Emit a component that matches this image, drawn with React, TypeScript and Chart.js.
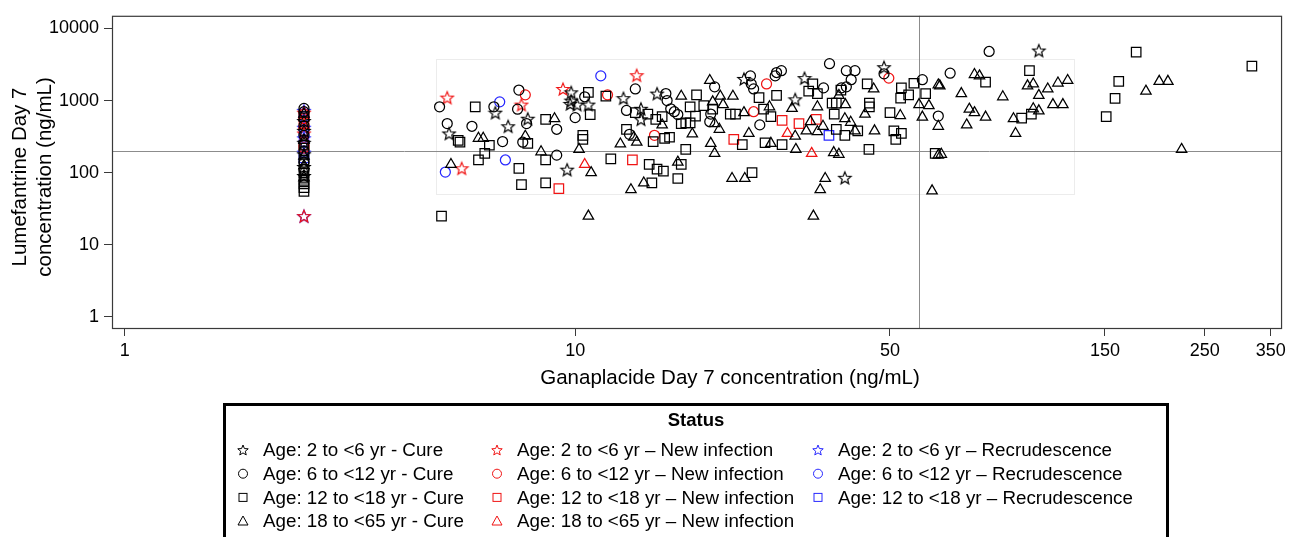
import React, { useEffect, useRef } from "react";
import { Chart, registerables } from "chart.js";
Chart.register(...registerables);

const FONT = "'Liberation Sans', Arial, Helvetica, sans-serif";

// ---------- axes ----------
const xTickValues = [1, 10, 50, 150, 250, 350];
const yTickValues = [1, 10, 100, 1000, 10000];
const xMin = 0.937;
const xMax = 371;
const yMin = 0.7;
const yMax = 15000;
const refLineX = 58;
const refLineY = 200;
const boxX = [4.9, 128];
const boxY = [50, 3750];

const xTitle = "Ganaplacide Day 7 concentration (ng/mL)";
const yTitle = ["Lumefantrine Day 7", "concentration (ng/mL)"];
const legendTitle = "Status";

// ---------- series labels ----------
const labelsCure = [
  "Age: 2 to <6 yr - Cure",
  "Age: 6 to <12 yr - Cure",
  "Age: 12 to <18 yr - Cure",
  "Age: 18 to <65 yr - Cure",
];
const labelsNewInf = [
  "Age: 2 to <6 yr \u2013 New infection",
  "Age: 6 to <12 yr \u2013 New infection",
  "Age: 12 to <18 yr \u2013 New infection",
  "Age: 18 to <65 yr \u2013 New infection",
];
const labelsRecr = [
  "Age: 2 to <6 yr \u2013 Recrudescence",
  "Age: 6 to <12 yr \u2013 Recrudescence",
  "Age: 12 to <18 yr \u2013 Recrudescence",
];

// ---------- data: [ganaplacide, lumefantrine] ----------
const cureAge2to6: number[][] = [
  [2.5, 90], [2.5, 120], [2.5, 180], [2.5, 260], [2.5, 380], [2.5, 520],
  [5.25, 350], [6.65, 680], [7.1, 440], [7.85, 560], [9.6, 110], [9.8, 1300],
  [9.8, 1000], [9.75, 900], [10.1, 880], [10.7, 880], [12.8, 1080], [14, 770],
  [14, 550], [15.2, 1250], [23.7, 2000], [32.3, 2050], [30.8, 1040], [39.7, 85],
  [48.5, 2900], [107, 4950],
];
const cureAge6to12: number[][] = [
  [2.5, 780], [2.5, 700], [2.5, 450], [2.5, 330], [2.5, 200], [2.5, 140], [2.5, 110],
  [5.0, 820], [5.2, 480], [5.9, 440], [6.6, 820], [6.9, 270], [7.5, 1400], [7.45, 760],
  [7.8, 480], [7.65, 265], [9.1, 400], [9.1, 175], [10, 580], [10.5, 1130], [13.6, 1450],
  [13, 730], [13.2, 340], [15.9, 1250], [16, 1000], [16.3, 770], [16.6, 700], [16.9, 640],
  [20.4, 1550], [20, 650], [19.9, 510], [24.5, 2200], [24.6, 1700], [24.9, 1450],
  [25.7, 460], [36.7, 3250], [40, 2600], [41.8, 2600], [41, 1950], [48.5, 2350],
  [28, 2450], [28.7, 2600], [27.8, 2200], [35.6, 1500], [39, 1500], [40, 1550],
  [59, 1950], [64, 610], [83, 4800], [68, 2400],
];
const cureAge12to18: number[][] = [
  [2.5, 55], [2.5, 62], [2.5, 70], [2.5, 78], [2.5, 100], [2.5, 150], [2.5, 240], [2.5, 600],
  [5.05, 25], [5.5, 280], [5.55, 265], [6.0, 820], [6.3, 185], [6.45, 240], [6.1, 150],
  [7.5, 115], [7.6, 68], [7.85, 255], [8.6, 550], [8.6, 150], [8.6, 72], [10.7, 1300],
  [10.8, 640], [10.4, 330], [10.4, 290], [11.7, 1150], [13.6, 680], [14.5, 650], [13, 400],
  [12, 155], [14.6, 130], [15.2, 112], [15.7, 105], [14.8, 72], [15.6, 600], [15.1, 550],
  [14.9, 270], [15.8, 300], [16.2, 310], [17.2, 480], [17.6, 490], [18, 490], [18.6, 1200],
  [18, 820], [18.5, 610], [19.3, 850], [17.6, 210], [17.2, 130], [16.9, 83], [20.2, 760],
  [24.7, 100], [22.1, 650], [22.7, 650], [25.6, 1100], [26.2, 760], [23.5, 245], [26.4, 260],
  [33.7, 1700], [34.5, 1250], [33, 1350], [38.9, 1400], [28, 1180], [27.2, 600], [28.8, 245],
  [37.2, 920], [38, 920], [37.6, 650], [38, 400], [44.9, 210], [44.5, 1700], [45, 920],
  [45, 820], [42.4, 380], [39.7, 330], [50, 680], [51, 380], [51.5, 290], [53, 350],
  [53, 1500], [52.8, 1080], [55, 1200], [56.5, 1740], [60, 1250], [63, 185], [81.5, 1800],
  [102, 2600], [98, 570], [103, 650], [176, 4700], [318, 3000], [161, 1850], [158, 1070],
  [151, 600],
];
const cureAge18to65: number[][] = [
  [2.5, 85], [2.5, 125], [2.5, 170], [2.5, 280], [2.5, 650],
  [5.3, 130], [6.1, 300], [6.25, 300], [7.75, 320], [9.0, 560], [8.4, 195], [10.2, 210],
  [10.85, 100], [10.7, 25], [13.5, 310], [13.7, 265], [12.6, 250], [14.2, 72], [13.3, 58],
  [17.2, 1150], [15.6, 460], [18.2, 345], [16.9, 140], [19.9, 1900], [21, 1150], [22.4, 1150],
  [20.2, 960], [21.3, 880], [20.4, 480], [20.9, 400], [20, 255], [20.4, 185], [22.3, 83],
  [23.8, 83], [23.7, 680], [24.3, 350], [35.9, 83], [35, 58], [33.8, 25], [62, 56],
  [30.9, 210], [37.5, 190], [38.5, 180], [46, 1450], [44, 650], [39.7, 560], [40.9, 500],
  [46.2, 380], [52.7, 620], [58, 880], [61, 850], [59, 590], [64, 1650], [64, 440], [64, 175],
  [27, 820], [27.2, 255], [30.3, 780], [30.8, 320], [34.5, 820], [33.3, 510], [35.5, 440],
  [39.8, 880], [32.6, 380], [34.5, 370], [41.8, 380], [38.5, 1180], [77, 2300], [79, 2200],
  [64.5, 1600], [72, 1250], [89, 1130], [101, 1600], [104, 1700], [107, 1180], [112, 1450],
  [118, 1750], [124, 1900], [75, 760], [77, 680], [81.5, 590], [74, 460], [95, 350], [94, 560],
  [104, 770], [107, 720], [115, 880], [121, 880], [185, 1350], [198, 1850], [207, 1850],
  [222, 210], [65, 180],
];
const newInfAge2to6: number[][] = [
  [2.5, 25], [2.5, 680], [2.5, 350],
  [5.2, 1100], [5.6, 115], [7.6, 880], [9.4, 1450], [13.7, 2250],
];
const newInfAge6to12: number[][] = [
  [2.5, 650], [2.5, 560], [2.5, 240], [2.5, 220],
  [7.75, 1200], [11.8, 1200], [15, 330], [26.6, 1700], [24.9, 700], [49.7, 2050],
];
const newInfAge12to18: number[][] = [
  [2.5, 500],
  [9.2, 60], [13.4, 150], [22.5, 290], [28.8, 530], [31.4, 480], [34.3, 550],
];
const newInfAge18to65: number[][] = [
  [2.5, 450],
  [10.5, 130], [29.6, 350], [33.5, 185],
];
const recrAge2to6: number[][] = [
  [2.5, 25], [2.5, 720], [2.5, 420], [2.5, 300], [2.5, 190],
];
const recrAge6to12: number[][] = [
  [2.5, 600], [2.5, 270],
  [5.15, 102], [6.8, 960], [7.0, 150], [11.4, 2200],
];
const recrAge12to18: number[][] = [
  [2.5, 380], [2.5, 160],
  [36.6, 330],
];

const BLACK = "#000000";
const RED = "#f01414";
const BLUE = "#2828ff";

function starPath(g: CanvasRenderingContext2D, cx: number, cy: number, R: number, r: number) {
  g.beginPath();
  for (let i = 0; i < 10; i++) {
    const rad = i % 2 === 0 ? R : r;
    const a = -Math.PI / 2 + (i * Math.PI) / 5;
    const px = cx + rad * Math.cos(a);
    const py = cy + rad * Math.sin(a);
    if (i === 0) g.moveTo(px, py);
    else g.lineTo(px, py);
  }
  g.closePath();
}

function makeStar(color: string, R: number) {
  const size = Math.ceil(R * 2 + 3);
  const c = document.createElement("canvas");
  c.width = size;
  c.height = size;
  const g = c.getContext("2d")!;
  starPath(g, size / 2, size / 2 + 0.6, R, R * 0.44);
  g.strokeStyle = color;
  g.lineWidth = 1.2;
  g.stroke();
  return c;
}

function drawLegendMarker(ctx: CanvasRenderingContext2D, style: string, x: number, y: number, color: string) {
  ctx.save();
  ctx.strokeStyle = color;
  ctx.lineWidth = 1;
  if (style === "star") {
    starPath(ctx, x, y + 0.5, 5.5, 2.4);
    ctx.stroke();
  } else if (style === "circle") {
    ctx.beginPath();
    ctx.arc(x, y, 4.5, 0, Math.PI * 2);
    ctx.stroke();
  } else if (style === "rect") {
    ctx.strokeRect(x - 4, y - 4, 8, 8);
  } else {
    ctx.beginPath();
    ctx.moveTo(x, y - 5);
    ctx.lineTo(x + 5, y + 4);
    ctx.lineTo(x - 5, y + 4);
    ctx.closePath();
    ctx.stroke();
  }
  ctx.restore();
}

const decorPlugin = {
  id: "decor",
  beforeDatasetsDraw(chart: any) {
    const { ctx, chartArea: a, scales } = chart;
    const x = scales.x;
    const y = scales.y;
    ctx.save();
    // faint box
    ctx.strokeStyle = "#ececec";
    ctx.lineWidth = 1;
    const bx0 = Math.round(x.getPixelForValue(boxX[0])) + 0.5;
    const bx1 = Math.round(x.getPixelForValue(boxX[1])) + 0.5;
    const by0 = Math.round(y.getPixelForValue(boxY[1])) + 0.5;
    const by1 = Math.round(y.getPixelForValue(boxY[0])) + 0.5;
    ctx.strokeRect(bx0, by0, bx1 - bx0, by1 - by0);
    // reference lines
    ctx.strokeStyle = "#8c8c8c";
    const px = Math.round(x.getPixelForValue(refLineX)) + 0.5;
    const py = Math.round(y.getPixelForValue(refLineY)) + 0.5;
    ctx.beginPath();
    ctx.moveTo(px, a.top);
    ctx.lineTo(px, a.bottom);
    ctx.moveTo(a.left, py);
    ctx.lineTo(a.right, py);
    ctx.stroke();
    ctx.restore();
  },
  afterDraw(chart: any) {
    const { ctx, chartArea: a } = chart;
    ctx.save();
    // plot frame
    ctx.strokeStyle = "#3a3a3a";
    ctx.lineWidth = 1.2;
    ctx.strokeRect(a.left + 0.5, a.top + 0.5, a.right - a.left - 1, a.bottom - a.top);

    // axis titles
    ctx.fillStyle = "#000";
    ctx.font = `20.5px ${FONT}`;
    ctx.textAlign = "center";
    ctx.textBaseline = "middle";
    ctx.fillText(xTitle, 730, 378);
    ctx.save();
    ctx.translate(20, 177);
    ctx.rotate(-Math.PI / 2);
    ctx.fillText(yTitle[0], 0, 0);
    ctx.fillText(yTitle[1], 0, 25);
    ctx.restore();

    // legend box
    const L = 223, R = 1169, T = 403;
    ctx.strokeStyle = "#000";
    ctx.lineWidth = 3;
    ctx.strokeRect(L + 1.5, T + 1.5, R - L - 3, 200);

    ctx.fillStyle = "#000";
    ctx.font = `bold 18.5px ${FONT}`;
    ctx.textAlign = "center";
    ctx.textBaseline = "middle";
    ctx.fillText(legendTitle, (L + R) / 2, 421);

    ctx.font = `18.8px ${FONT}`;
    ctx.textAlign = "left";
    const colMarkerX = [243, 497, 818];
    const rowY = [450, 473.7, 497.4, 521];
    chart.data.datasets.forEach((ds: any, i: number) => {
      const col = Math.floor(i / 4);
      const row = i % 4;
      const mx = colMarkerX[col];
      const my = rowY[row];
      drawLegendMarker(ctx, ds.markerName, mx, my, ds.borderColor);
      ctx.fillStyle = "#000";
      ctx.fillText(ds.label, mx + 20, my + 1);
    });
    ctx.restore();
  },
};

const toPoints = (arr: number[][]) => arr.map(([x, y]) => ({ x, y }));

export default function App() {
  const ref = useRef<HTMLCanvasElement | null>(null);
  useEffect(() => {
    if (!ref.current) return;
    const starBlack = makeStar(BLACK, 6.5);
    const starRed = makeStar(RED, 6.5);
    const starBlue = makeStar(BLUE, 6.5);

    const mk = (label: string, data: number[][], color: string, marker: string, star: HTMLCanvasElement) => {
      const radius = marker === "circle" ? 5 : marker === "rect" ? 6.7 : marker === "triangle" ? 6 : 6.5;
      return {
        label,
        data: toPoints(data),
        borderColor: color,
        backgroundColor: "rgba(0,0,0,0)",
        pointStyle: marker === "star" ? star : marker,
        pointRadius: radius,
        pointBorderWidth: 1.25,
        pointBorderColor: color,
        pointBackgroundColor: "rgba(0,0,0,0)",
        showLine: false,
        markerName: marker,
      };
    };

    const datasets = [
      mk(labelsCure[0], cureAge2to6, BLACK, "star", starBlack),
      mk(labelsCure[1], cureAge6to12, BLACK, "circle", starBlack),
      mk(labelsCure[2], cureAge12to18, BLACK, "rect", starBlack),
      mk(labelsCure[3], cureAge18to65, BLACK, "triangle", starBlack),
      mk(labelsNewInf[0], newInfAge2to6, RED, "star", starRed),
      mk(labelsNewInf[1], newInfAge6to12, RED, "circle", starRed),
      mk(labelsNewInf[2], newInfAge12to18, RED, "rect", starRed),
      mk(labelsNewInf[3], newInfAge18to65, RED, "triangle", starRed),
      mk(labelsRecr[0], recrAge2to6, BLUE, "star", starBlue),
      mk(labelsRecr[1], recrAge6to12, BLUE, "circle", starBlue),
      mk(labelsRecr[2], recrAge12to18, BLUE, "rect", starBlue),
    ];

    const tickFont = { family: FONT, size: 18 };

    const chart = new Chart(ref.current, {
      type: "scatter",
      data: { datasets: datasets as any },
      plugins: [decorPlugin],
      options: {
        responsive: false,
        animation: false,
        events: [],
        layout: { padding: { left: 0, top: 13, right: 3, bottom: 144 } },
        plugins: { legend: { display: false }, tooltip: { enabled: false } },
        scales: {
          x: {
            type: "logarithmic",
            position: "bottom",
            min: xMin,
            max: xMax,
            afterBuildTicks: (s: any) => {
              s.ticks = xTickValues.map((v) => ({ value: v }));
            },
            afterFit: (s: any) => {
              s.height = 65;
            },
            ticks: {
              autoSkip: false,
              maxRotation: 0,
              color: "#000",
              font: tickFont,
              padding: 4,
              callback: (v: any) => String(v),
            },
            grid: { display: true, drawOnChartArea: false, drawTicks: true, tickLength: 8, tickColor: "#3a3a3a" },
            border: { display: false },
            title: { display: false },
          },
          y: {
            type: "logarithmic",
            position: "left",
            min: yMin,
            max: yMax,
            afterBuildTicks: (s: any) => {
              s.ticks = yTickValues.map((v) => ({ value: v }));
            },
            afterFit: (s: any) => {
              s.width = 112;
            },
            ticks: {
              autoSkip: false,
              color: "#000",
              font: tickFont,
              padding: 5,
              callback: (v: any) => String(v),
            },
            grid: { display: true, drawOnChartArea: false, drawTicks: true, tickLength: 8, tickColor: "#3a3a3a" },
            border: { display: false },
            title: { display: false },
          },
        },
      } as any,
    });
    return () => chart.destroy();
  }, []);

  return (
    <div style={{ position: "absolute", left: 0, top: 0, width: 1290, height: 537, background: "#fff" }}>
      <canvas ref={ref} width={1290} height={537} style={{ display: "block" }} />
    </div>
  );
}
